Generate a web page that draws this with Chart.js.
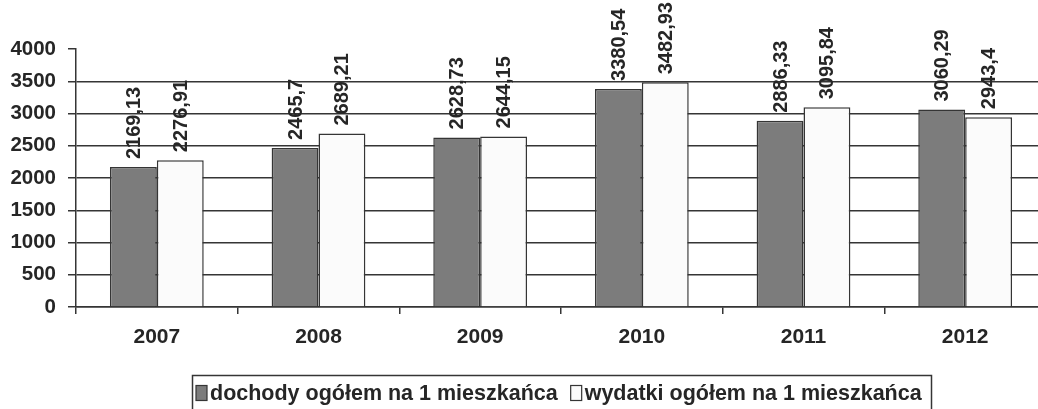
<!DOCTYPE html>
<html>
<head>
<meta charset="utf-8">
<script src="https://cdn.jsdelivr.net/npm/chart.js@4"></script>
<style>
  html, body { margin: 0; padding: 0; background: #fff; overflow: hidden; }
  canvas { display: block; }
</style>
</head>
<body>
<canvas id="c" width="1124" height="409"></canvas>
<script>
// Budget per inhabitant, 2007–2012
const years = ['2007', '2008', '2009', '2010', '2011', '2012'];
const dochody = [2169.13, 2465.7, 2628.73, 3380.54, 2886.33, 3060.29];
const wydatki = [2276.91, 2689.21, 2644.15, 3482.93, 3095.84, 2943.4];
const seriesNames = ['dochody ogółem na 1 mieszkańca', 'wydatki ogółem na 1 mieszkańca'];
const yTickValues = [0, 500, 1000, 1500, 2000, 2500, 3000, 3500, 4000];

const FONT = '"Liberation Sans", Arial, sans-serif';
const INK = '#262626';
const LINE = '#353535';

const fmt = v => String(v).replace('.', ',');

// Rotated value labels above each bar
const valueLabels = {
  id: 'valueLabels',
  afterDatasetsDraw(chart) {
    const ctx = chart.ctx;
    chart.data.datasets.forEach((ds, i) => {
      const meta = chart.getDatasetMeta(i);
      meta.data.forEach((bar, j) => {
        ctx.save();
        ctx.translate(bar.x, bar.y - 8);
        ctx.rotate(-Math.PI / 2);
        ctx.font = 'bold 20px ' + FONT;
        ctx.fillStyle = INK;
        ctx.textAlign = 'left';
        ctx.textBaseline = 'middle';
        ctx.fillText(fmt(ds.data[j]), 0, 1);
        ctx.restore();
      });
    });
  }
};

// Framed legend along the bottom
const framedLegend = {
  id: 'framedLegend',
  afterDraw(chart) {
    const ctx = chart.ctx;
    ctx.save();
    ctx.font = 'bold 21.5px ' + FONT;
    const sw = 11, sh = 15, gapIn = 3, gapOut = 13;
    const items = chart.data.datasets.map(ds => ({
      ds, w: sw + gapIn + ctx.measureText(ds.label).width
    }));
    const total = items.reduce((s, it) => s + it.w, 0) + gapOut * (items.length - 1);
    const cx = 559;
    const cy = 393;
    let x = Math.round(cx - total / 2);
    ctx.strokeStyle = LINE;
    ctx.lineWidth = 1.5;
    ctx.strokeRect(x - 4 + 0.5, 375.5, Math.round(total + 13), 60);
    items.forEach(it => {
      ctx.fillStyle = it.ds.backgroundColor;
      ctx.fillRect(x, cy - sh / 2, sw, sh);
      ctx.strokeStyle = LINE;
      ctx.lineWidth = 1.2;
      ctx.strokeRect(x, cy - sh / 2, sw, sh);
      ctx.fillStyle = INK;
      ctx.textAlign = 'left';
      ctx.textBaseline = 'middle';
      ctx.fillText(it.ds.label, x + sw + gapIn, cy + 1);
      x += it.w + gapOut;
    });
    ctx.restore();
  }
};

new Chart(document.getElementById('c'), {
  type: 'bar',
  data: {
    labels: years,
    datasets: [
      { label: seriesNames[0], data: dochody, backgroundColor: '#7c7c7c', borderColor: LINE, borderWidth: 1.5 },
      { label: seriesNames[1], data: wydatki, backgroundColor: '#fbfbfb', borderColor: LINE, borderWidth: 1.5 }
    ]
  },
  options: {
    responsive: false,
    animation: false,
    devicePixelRatio: 1,
    layout: { padding: { top: 49, right: 78, bottom: 0, left: 0 } },
    datasets: { bar: { categoryPercentage: 0.58, barPercentage: 1.0 } },
    plugins: { legend: { display: false }, tooltip: { enabled: false } },
    scales: {
      x: {
        offset: true,
        grid: { offset: true, drawOnChartArea: false, drawTicks: true, tickLength: 7, color: LINE, lineWidth: 1.5 },
        border: { display: true, color: LINE, width: 1.5 },
        ticks: { color: INK, padding: 11, font: { family: FONT, size: 21, weight: 'bold' } },
        afterFit(scale) { scale.height = 102; }
      },
      y: {
        min: 0,
        max: 4000,
        afterBuildTicks(scale) { scale.ticks = yTickValues.map(v => ({ value: v })); },
        grid: {
          drawTicks: true,
          tickLength: 8,
          lineWidth: 1.5,
          tickColor: LINE,
          color: ctx => (ctx.tick && ctx.tick.value === 4000) ? 'rgba(0,0,0,0)' : LINE
        },
        border: { display: true, color: LINE, width: 1.5 },
        ticks: {
          color: INK,
          padding: 12,
          font: { family: FONT, size: 20.5, weight: 'bold' },
          callback: v => String(v)
        },
        afterFit(scale) { scale.width = 76; }
      }
    }
  },
  plugins: [valueLabels, framedLegend]
});
</script>
</body>
</html>
